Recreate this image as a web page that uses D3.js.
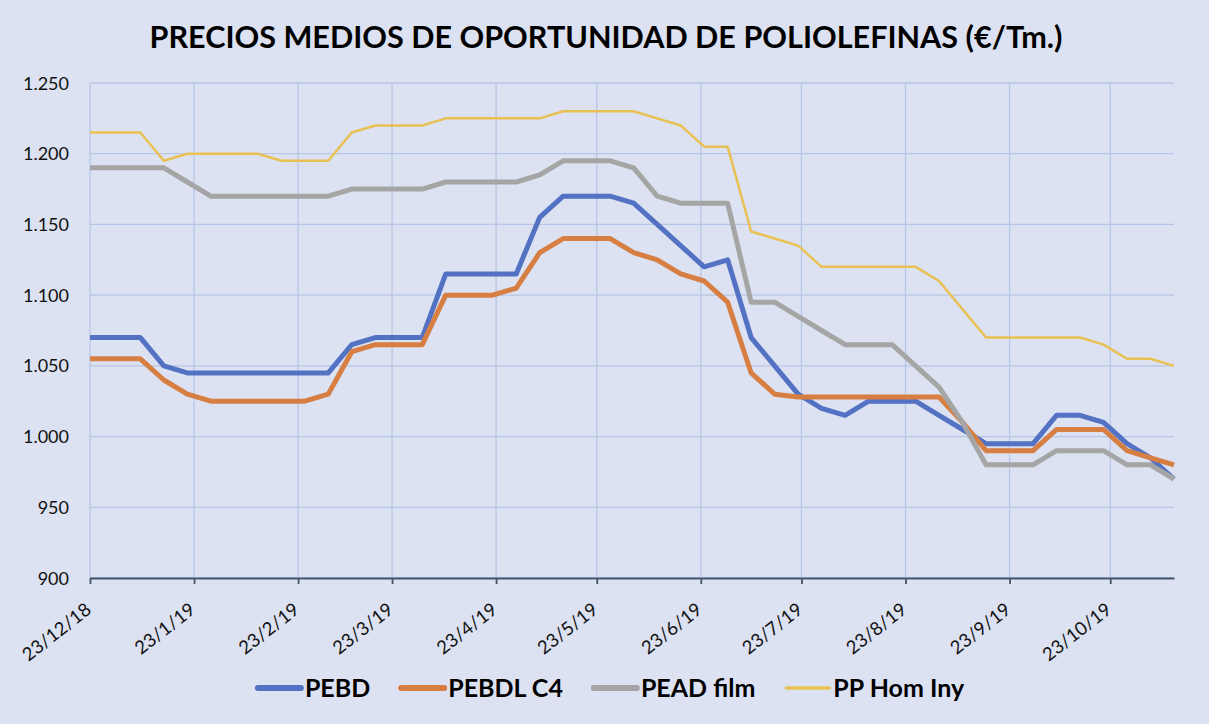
<!DOCTYPE html>
<html>
<head>
<meta charset="utf-8">
<script src="https://cdn.jsdelivr.net/npm/d3@7/dist/d3.min.js"></script>
<style>
  html, body { margin: 0; padding: 0; background: #DCE2F1; }
  svg { display: block; }
</style>
</head>
<body>
<svg id="chart" width="1209" height="724"></svg>
<script>
// ---------------- DATA ----------------
const title = "PRECIOS MEDIOS DE OPORTUNIDAD DE POLIOLEFINAS (€/Tm.)";
const dates = [
  "2018-12-23","2018-12-31","2019-01-07","2019-01-14","2019-01-21","2019-01-28",
  "2019-02-04","2019-02-11","2019-02-18","2019-02-25","2019-03-04","2019-03-11",
  "2019-03-18","2019-03-25","2019-04-01","2019-04-08","2019-04-15","2019-04-22",
  "2019-04-29","2019-05-06","2019-05-13","2019-05-20","2019-05-27","2019-06-03",
  "2019-06-10","2019-06-17","2019-06-24","2019-07-01","2019-07-08","2019-07-15",
  "2019-07-22","2019-07-29","2019-08-05","2019-08-12","2019-08-19","2019-08-26",
  "2019-09-02","2019-09-09","2019-09-16","2019-09-23","2019-09-30","2019-10-07",
  "2019-10-14","2019-10-21","2019-10-28","2019-11-04","2019-11-11"
];
const pebd = [
  1070,1070,1070,1050,1045,1045,1045,1045,1045,1045,1045,1065,
  1070,1070,1070,1115,1115,1115,1115,1155,1170,1170,1170,1165,
  1150,1135,1120,1125,1070,1050,1030,1020,1015,1025,1025,1025,
  1015,1005,995,995,995,1015,1015,1010,995,985,970
];
const pebdlC4 = [
  1055,1055,1055,1040,1030,1025,1025,1025,1025,1025,1030,1060,
  1065,1065,1065,1100,1100,1100,1105,1130,1140,1140,1140,1130,
  1125,1115,1110,1095,1045,1030,1028,1028,1028,1028,1028,1028,
  1028,1010,990,990,990,1005,1005,1005,990,985,980
];
const peadFilm = [
  1190,1190,1190,1190,1180,1170,1170,1170,1170,1170,1170,1175,
  1175,1175,1175,1180,1180,1180,1180,1185,1195,1195,1195,1190,
  1170,1165,1165,1165,1095,1095,1085,1075,1065,1065,1065,1050,
  1035,1010,980,980,980,990,990,990,980,980,970
];
const ppHomIny = [
  1215,1215,1215,1195,1200,1200,1200,1200,1195,1195,1195,1215,
  1220,1220,1220,1225,1225,1225,1225,1225,1230,1230,1230,1230,
  1225,1220,1205,1205,1145,1140,1135,1120,1120,1120,1120,1120,
  1110,1090,1070,1070,1070,1070,1070,1065,1055,1055,1050
];
const seriesNames = ["PEBD","PEBDL C4","PEAD film","PP Hom Iny"];
const xTickLabels = ["23/12/18","23/1/19","23/2/19","23/3/19","23/4/19","23/5/19",
                     "23/6/19","23/7/19","23/8/19","23/9/19","23/10/19"];
const yTicks = [900,950,1000,1050,1100,1150,1200,1250];
const xDomain = ["2018-12-23","2019-11-11"];

// ---------------- STYLE ----------------
const colors = ["#5372C3","#D77E43","#A5A5A5","#E9C152"];
const widths = [5, 5, 5, 2.5];
const FONT = "Lato, 'Open Sans', sans-serif";

const svg = d3.select("#chart");
const W = 1209, H = 724;
const plot = {left: 90, right: 1174, top: 83, bottom: 578};

svg.append("rect").attr("width", W).attr("height", H).attr("fill", "#DCE2F1");

const parseISO = d3.timeParse("%Y-%m-%d");
const parseTick = d3.timeParse("%d/%m/%y");

const x = d3.scaleTime()
  .domain(xDomain.map(parseISO))
  .range([plot.left, plot.right]);
const y = d3.scaleLinear()
  .domain([d3.min(yTicks), d3.max(yTicks)])
  .range([plot.bottom, plot.top]);

const esLocale = d3.formatLocale({decimal: ",", thousands: ".", grouping: [3], currency: ["", " €"]});
const fmt = esLocale.format(",d");

const tickDates = xTickLabels.map(parseTick);

// gridlines
const grid = svg.append("g");
grid.selectAll("line.h").data(yTicks).join("line")
  .attr("x1", plot.left).attr("x2", plot.right)
  .attr("y1", d => y(d)).attr("y2", d => y(d))
  .attr("stroke", "#B6C6E6").attr("stroke-width", 1.3);
grid.selectAll("line.v").data(tickDates).join("line")
  .attr("x1", d => x(d)).attr("x2", d => x(d))
  .attr("y1", plot.top).attr("y2", plot.bottom)
  .attr("stroke", "#B6C6E6").attr("stroke-width", 1.3);

// y axis labels
const yAxis = d3.axisLeft(y).tickValues(yTicks).tickFormat(fmt).tickSize(0).tickPadding(21);
const gy = svg.append("g").attr("transform", `translate(${plot.left},0)`).call(yAxis);
gy.select(".domain").remove();
gy.selectAll("text").attr("font-family", FONT).attr("font-size", 18).attr("fill", "#111")
  .attr("dy", "0.34em");

// x axis
const xAxis = d3.axisBottom(x).tickValues(tickDates)
  .tickFormat((d, i) => xTickLabels[i]).tickSize(6).tickSizeOuter(0);
const gx = svg.append("g").attr("transform", `translate(0,${plot.bottom})`).call(xAxis);
gx.select(".domain").attr("stroke", "#44546A").attr("stroke-width", 1.8);
gx.selectAll(".tick line").attr("stroke", "#44546A").attr("stroke-width", 1.8);
gx.selectAll(".tick text").remove();
// rotated tick labels
gx.selectAll(".tick").append("text")
  .attr("font-family", FONT).attr("font-size", 18.5).attr("fill", "#111")
  .attr("text-anchor", "end")
  .attr("transform", "translate(2,34) rotate(-38)")
  .text((d, i) => xTickLabels[i]);

// lines
const allSeries = [pebd, pebdlC4, peadFilm, ppHomIny];
const dateObjs = dates.map(parseISO);
const line = d3.line().x((d, i) => x(dateObjs[i])).y(d => y(d));
svg.append("g").selectAll("path").data(allSeries).join("path")
  .attr("d", d => line(d))
  .attr("fill", "none")
  .attr("stroke", (d, i) => colors[i])
  .attr("stroke-width", (d, i) => widths[i])
  .attr("stroke-linejoin", "round")
  .attr("stroke-linecap", "butt");

// title
const t = svg.append("text")
  .attr("x", 606).attr("y", 48)
  .attr("text-anchor", "middle")
  .attr("font-family", FONT).attr("font-weight", 700).attr("font-size", 31)
  .attr("fill", "#000")
  .text(title);
t.attr("textLength", 913).attr("lengthAdjust", "spacingAndGlyphs");

// legend
const leg = svg.append("g");
const legY = 688;
const symLen = 43, symGap = 4, itemGap = 31;
const items = leg.selectAll("g").data(seriesNames).join("g");
items.append("line")
  .attr("x1", 0).attr("x2", symLen).attr("y1", 0).attr("y2", 0)
  .attr("stroke", (d, i) => colors[i])
  .attr("stroke-width", (d, i) => widths[i] + 1)
  .attr("stroke-linecap", "round");
items.append("text")
  .attr("x", symLen + symGap).attr("y", 0).attr("dy", "0.35em")
  .attr("font-family", FONT).attr("font-weight", 700).attr("font-size", 25)
  .attr("fill", "#000")
  .text(d => d);
let offs = [], cur = 0;
items.each(function(d, i) {
  const w = symLen + symGap + this.querySelector("text").getComputedTextLength();
  offs.push(cur);
  cur += w + itemGap;
});
const total = cur - itemGap;
const startX = 611 - total / 2;
items.attr("transform", (d, i) => `translate(${startX + offs[i]},${legY})`);
</script>
</body>
</html>
